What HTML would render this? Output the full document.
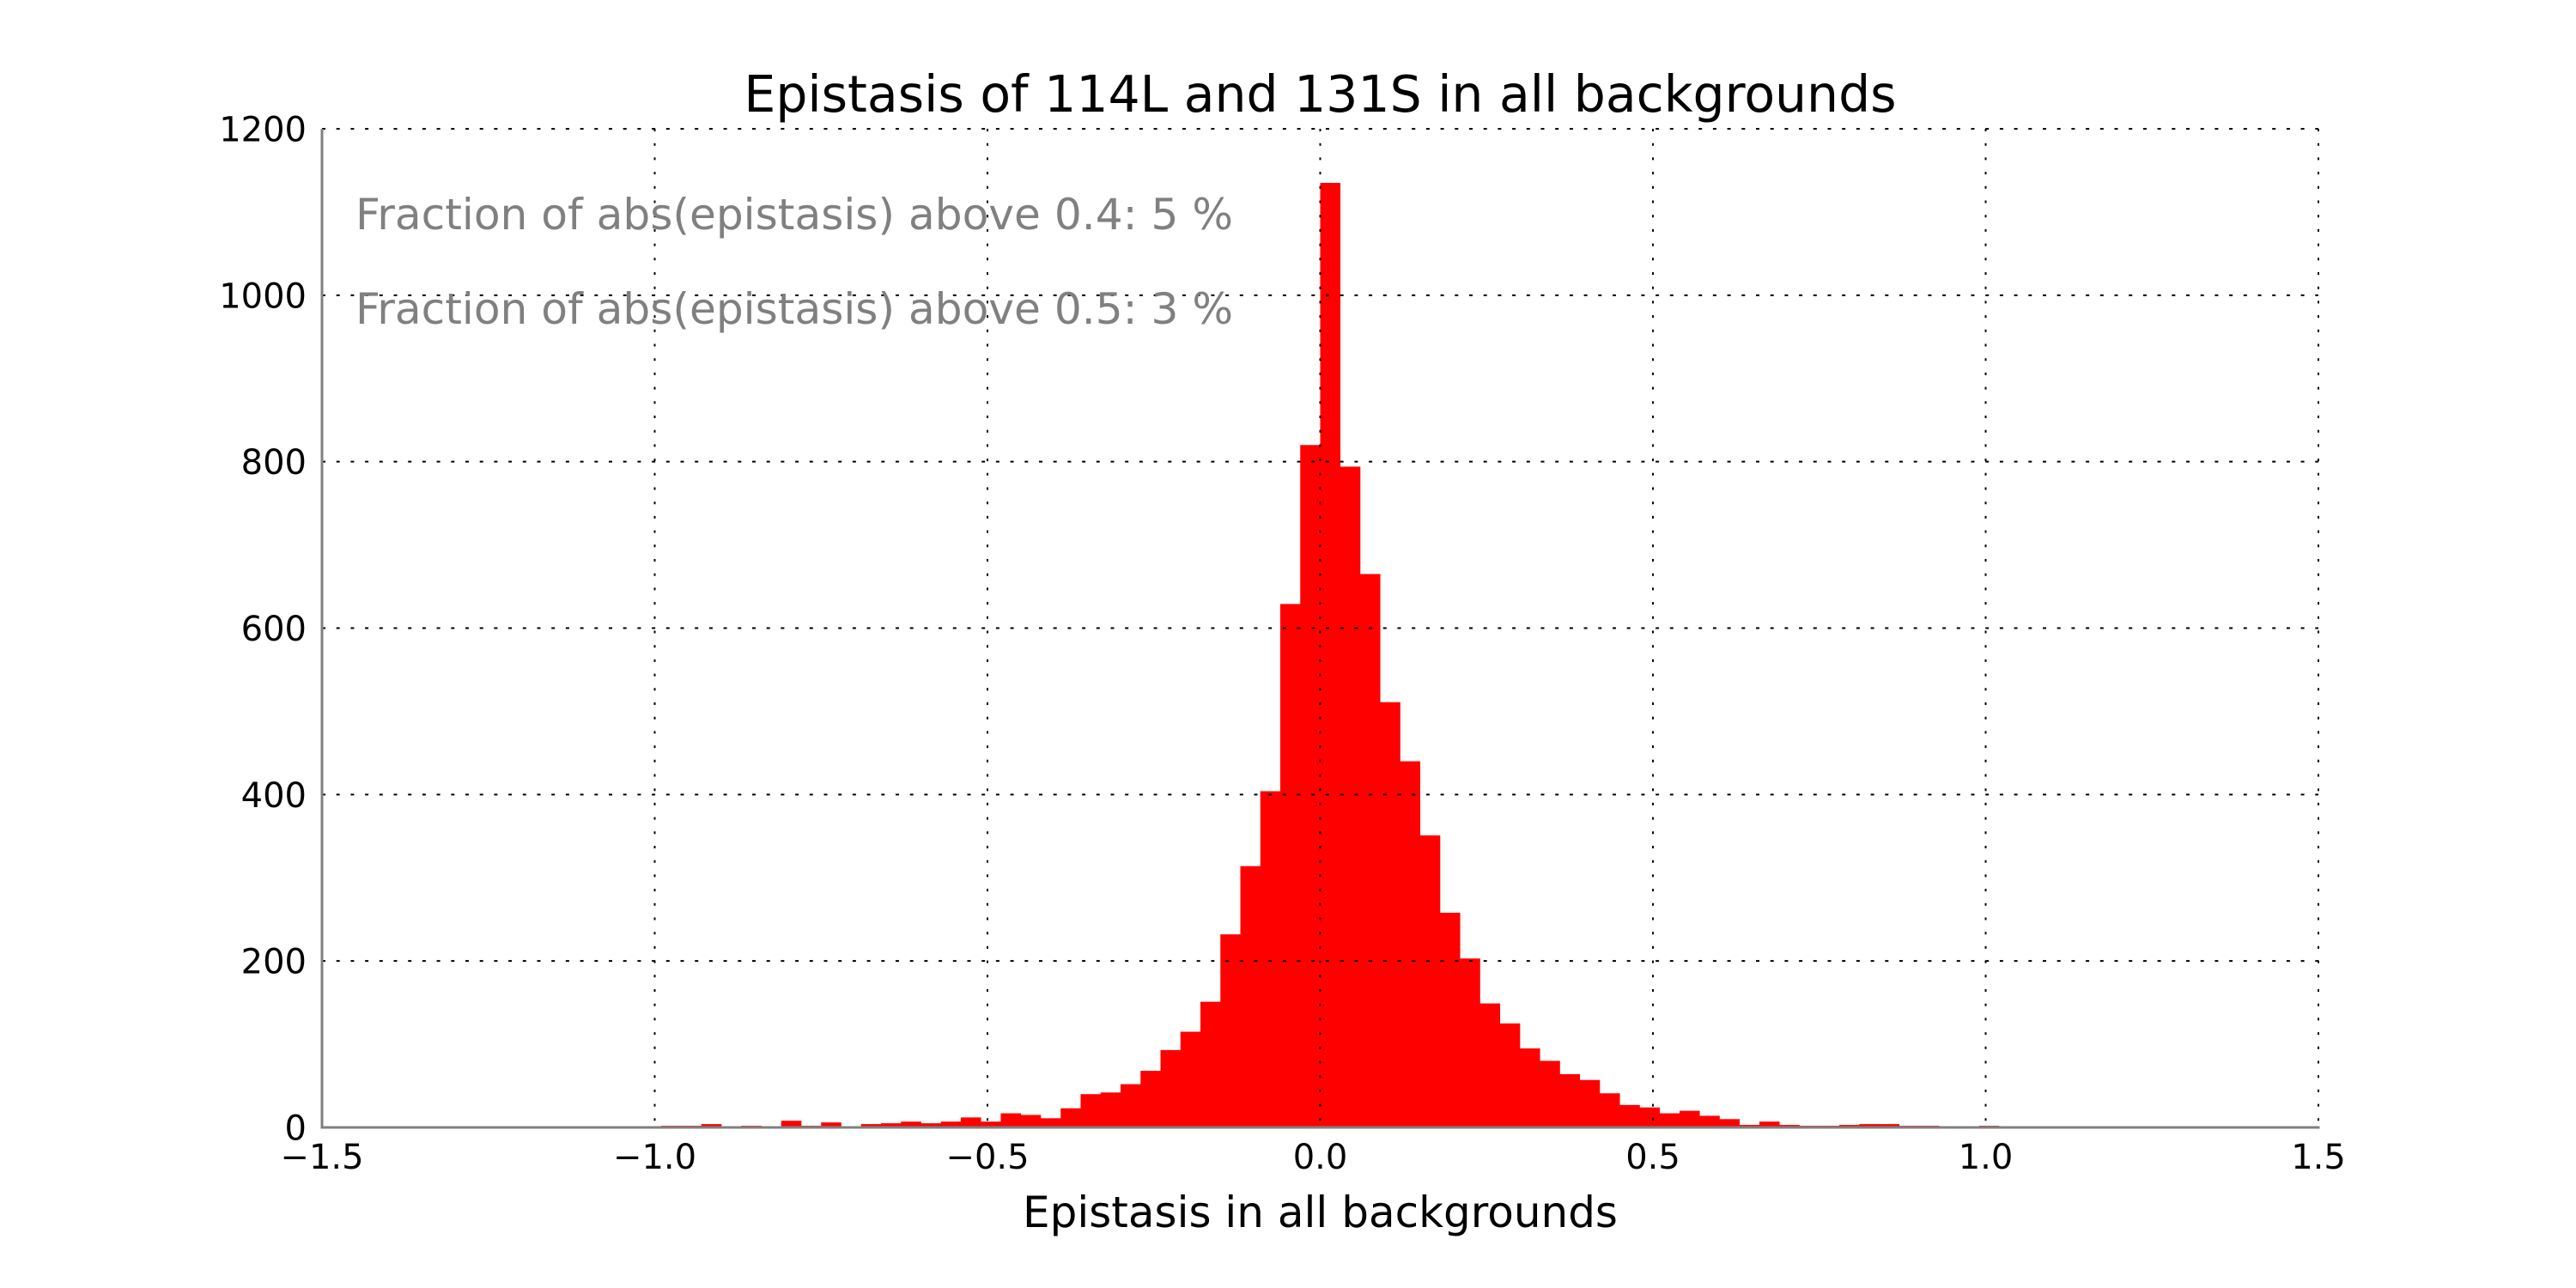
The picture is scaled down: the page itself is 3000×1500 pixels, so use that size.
<!DOCTYPE html>
<html>
<head>
<meta charset="utf-8">
<style>
  html, body { margin: 0; padding: 0; background: #ffffff; }
  svg { display: block; }
  text { font-family: "DejaVu Sans", "Liberation Sans", sans-serif; }
</style>
</head>
<body>
<svg id="chart" xmlns="http://www.w3.org/2000/svg" width="3000" height="1500" viewBox="0 0 3000 1500">
  <rect x="0" y="0" width="3000" height="1500" fill="#ffffff"/>
  <g id="bars"></g>
  <g id="grid"></g>
  <g id="spines"></g>
  <g id="xticks"></g>
  <g id="yticks"></g>
  <text x="1537.5" y="130" font-size="58.4" text-anchor="middle" fill="#000">Epistasis of 114L and 131S in all backgrounds</text>
  <text x="1537.5" y="1429" font-size="50" text-anchor="middle" fill="#000">Epistasis in all backgrounds</text>
  <text x="414" y="267" font-size="50.2" fill="#808080">Fraction of abs(epistasis) above 0.4: 5 %</text>
  <text x="414" y="377" font-size="50.2" fill="#808080">Fraction of abs(epistasis) above 0.5: 3 %</text>
</svg>
<script>
const binStarts = [-0.99,-0.96,-0.93,-0.90,-0.87,-0.84,-0.81,-0.78,-0.75,-0.72,-0.69,-0.66,-0.63,-0.60,-0.57,-0.54,-0.51,-0.48,-0.45,-0.42,-0.39,-0.36,-0.33,-0.30,-0.27,-0.24,-0.21,-0.18,-0.15,-0.12,-0.09,-0.06,-0.03,0.00,0.03,0.06,0.09,0.12,0.15,0.18,0.21,0.24,0.27,0.30,0.33,0.36,0.39,0.42,0.45,0.48,0.51,0.54,0.57,0.60,0.63,0.66,0.69,0.72,0.75,0.78,0.81,0.84,0.87,0.90,0.93,0.96,0.99];
const counts = [2,2,4,0,2,0,8,2,6,1,4,5,7,5,7,12,7,17,15,11,23,40,42,52,68,93,115,151,232,314,404,629,820,1135,794,665,511,440,351,258,203,149,125,95,80,64,57,41,27,24,17,20,14,10,3,7,3,2,2,3,4,4,2,2,0,0,2];
const binWidth = 0.03;
const xTicks = [-1.5,-1.0,-0.5,0.0,0.5,1.0,1.5];
const xTickLabels = ["\u22121.5","\u22121.0","\u22120.5","0.0","0.5","1.0","1.5"];
const yTicks = [0,200,400,600,800,1000,1200];
const yTickLabels = ["0","200","400","600","800","1000","1200"];

const NS = "http://www.w3.org/2000/svg";
const L = 375, R = 2700, T = 150, B = 1313;
const xMin = -1.5, xMax = 1.5, yMin = 0, yMax = 1200;
function xs(v) { return L + (v - xMin) / (xMax - xMin) * (R - L); }
function ys(v) { return B - (v - yMin) / (yMax - yMin) * (B - T); }
function mk(tag, attrs) {
  const e = document.createElementNS(NS, tag);
  for (const k in attrs) e.setAttribute(k, attrs[k]);
  return e;
}

const barsG = document.getElementById('bars');
for (let i = 0; i < counts.length; i++) {
  if (counts[i] <= 0) continue;
  const x0 = xs(binStarts[i]), x1 = xs(binStarts[i] + binWidth);
  const y0 = ys(counts[i]);
  const r = mk('rect', {x: x0, y: y0, width: x1 - x0 + 0.3, height: B - y0, fill: '#ff0000'});
  
  
  barsG.appendChild(r);
}

const gridG = document.getElementById('grid');
for (let i = 0; i < xTicks.length; i++) {
  const x = xs(xTicks[i]);
  const ln = mk('line', {x1: x, y1: T, x2: x, y2: B, stroke: '#000', 'stroke-width': 2, 'stroke-dasharray': '3,13.7'});
  
  
  gridG.appendChild(ln);
}
for (let i = 0; i < yTicks.length; i++) {
  const y = ys(yTicks[i]);
  const ln = mk('line', {x1: L, y1: y, x2: R, y2: y, stroke: '#000', 'stroke-width': 2, 'stroke-dasharray': '4,12.7'});
  
  
  gridG.appendChild(ln);
}

const spG = document.getElementById('spines');
const ls = mk('line', {x1: L, y1: T, x2: L, y2: B + 1.5, stroke: '#808080', 'stroke-width': 3});


spG.appendChild(ls);
const bs = mk('line', {x1: L - 1.5, y1: B, x2: R + 1.5, y2: B, stroke: '#808080', 'stroke-width': 3});


spG.appendChild(bs);

const xtG = document.getElementById('xticks');
for (let i = 0; i < xTicks.length; i++) {
  const t = mk('text', {x: xs(xTicks[i]), y: 1361, 'font-size': 40, 'text-anchor': 'middle', fill: '#000'});
  t.textContent = xTickLabels[i];
  
  
  xtG.appendChild(t);
}
const ytG = document.getElementById('yticks');
for (let i = 0; i < yTicks.length; i++) {
  const t = mk('text', {x: 357, y: ys(yTicks[i]) + 14.5, 'font-size': 40, 'text-anchor': 'end', fill: '#000'});
  t.textContent = yTickLabels[i];
  
  
  ytG.appendChild(t);
}
</script>
</body>
</html>
